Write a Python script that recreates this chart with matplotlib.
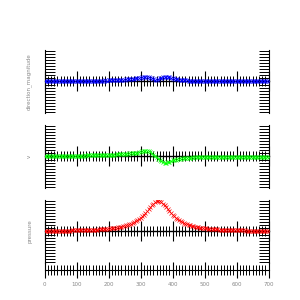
import numpy as np
import matplotlib
matplotlib.use("Agg")
import matplotlib.pyplot as plt
from matplotlib.ticker import MultipleLocator, NullFormatter

# sample positions along the domain
x = np.arange(0, 705, 5)
x_ticks = [0, 100, 200, 300, 400, 500, 600, 700]

direction_magnitude = [
    0.00, 0.00, 0.01, 0.00, 0.01, 0.00, 0.01, 0.01, 0.00, 0.01,
    0.01, 0.01, 0.00, 0.01, 0.01, 0.01, 0.01, 0.02, 0.01, 0.01,
    0.02, 0.01, 0.02, 0.02, 0.02, 0.02, 0.02, 0.02, 0.02, 0.03,
    0.02, 0.03, 0.03, 0.03, 0.03, 0.03, 0.03, 0.03, 0.04, 0.03,
    0.04, 0.04, 0.04, 0.05, 0.04, 0.05, 0.05, 0.05, 0.06, 0.06,
    0.06, 0.07, 0.07, 0.08, 0.08, 0.09, 0.09, 0.10, 0.10, 0.11,
    0.12, 0.14, 0.15, 0.16, 0.16, 0.15, 0.13, 0.10, 0.07, 0.05,
    0.05, 0.07, 0.10, 0.13, 0.15, 0.16, 0.16, 0.15, 0.14, 0.12,
    0.10, 0.09, 0.08, 0.07, 0.06, 0.05, 0.05, 0.04, 0.04, 0.04,
    0.03, 0.03, 0.03, 0.03, 0.03, 0.02, 0.02, 0.03, 0.02, 0.02,
    0.02, 0.02, 0.02, 0.02, 0.01, 0.02, 0.02, 0.01, 0.02, 0.01,
    0.01, 0.02, 0.01, 0.01, 0.01, 0.01, 0.01, 0.01, 0.00, 0.01,
    0.01, 0.01, 0.00, 0.01, 0.01, 0.00, 0.01, 0.00, 0.01, 0.00,
    0.00, 0.01, 0.00, 0.00, 0.01, 0.00, 0.00, 0.00, 0.00, 0.00,
    0.00,
]

v = [
    0.01, 0.01, 0.01, 0.01, 0.01, 0.02, 0.01, 0.02, 0.02, 0.02,
    0.02, 0.02, 0.02, 0.02, 0.02, 0.03, 0.02, 0.03, 0.03, 0.03,
    0.03, 0.03, 0.03, 0.03, 0.03, 0.04, 0.03, 0.04, 0.04, 0.04,
    0.04, 0.04, 0.04, 0.04, 0.05, 0.04, 0.05, 0.05, 0.05, 0.05,
    0.05, 0.06, 0.06, 0.06, 0.06, 0.07, 0.07, 0.07, 0.08, 0.08,
    0.08, 0.09, 0.09, 0.10, 0.10, 0.11, 0.12, 0.12, 0.13, 0.14,
    0.15, 0.17, 0.18, 0.19, 0.19, 0.17, 0.14, 0.10, 0.06, 0.02,
    -0.03, -0.08, -0.12, -0.16, -0.18, -0.20, -0.20, -0.19, -0.17, -0.15,
    -0.13, -0.11, -0.10, -0.09, -0.08, -0.07, -0.06, -0.05, -0.05, -0.04,
    -0.04, -0.04, -0.03, -0.04, -0.03, -0.03, -0.03, -0.03, -0.03, -0.02,
    -0.03, -0.02, -0.03, -0.02, -0.02, -0.02, -0.02, -0.02, -0.02, -0.02,
    -0.02, -0.02, -0.01, -0.02, -0.02, -0.01, -0.02, -0.01, -0.02, -0.01,
    -0.01, -0.02, -0.01, -0.01, -0.01, -0.02, -0.01, -0.01, -0.01, -0.01,
    -0.01, -0.01, -0.01, -0.01, -0.01, -0.01, -0.01, -0.01, -0.01, -0.01,
    -0.01,
]

pressure = [
    0.020, 0.020, 0.021, 0.021, 0.022, 0.022, 0.023, 0.024, 0.025, 0.025,
    0.026, 0.027, 0.028, 0.029, 0.030, 0.031, 0.032, 0.033, 0.034, 0.036,
    0.037, 0.038, 0.040, 0.042, 0.043, 0.045, 0.047, 0.049, 0.051, 0.054,
    0.056, 0.059, 0.062, 0.065, 0.068, 0.072, 0.075, 0.080, 0.084, 0.089,
    0.094, 0.100, 0.106, 0.113, 0.121, 0.129, 0.138, 0.148, 0.159, 0.171,
    0.185, 0.200, 0.217, 0.236, 0.257, 0.281, 0.308, 0.338, 0.372, 0.410,
    0.452, 0.500, 0.552, 0.610, 0.671, 0.735, 0.800, 0.862, 0.917, 0.962,
    0.990, 1.000, 0.990, 0.962, 0.917, 0.862, 0.800, 0.735, 0.671, 0.610,
    0.552, 0.500, 0.452, 0.410, 0.372, 0.338, 0.308, 0.281, 0.257, 0.236,
    0.217, 0.200, 0.185, 0.171, 0.159, 0.148, 0.138, 0.129, 0.121, 0.113,
    0.106, 0.100, 0.094, 0.089, 0.084, 0.080, 0.075, 0.072, 0.068, 0.065,
    0.062, 0.059, 0.056, 0.054, 0.051, 0.049, 0.047, 0.045, 0.043, 0.042,
    0.040, 0.038, 0.037, 0.036, 0.034, 0.033, 0.032, 0.031, 0.030, 0.029,
    0.028, 0.027, 0.026, 0.025, 0.025, 0.024, 0.023, 0.022, 0.022, 0.021,
    0.021,
]

series = [("direction_magnitude", direction_magnitude, "#0000ff"),
          ("v", v, "#00ff00"),
          ("pressure", pressure, "#ff0000")]

label_color = "#888888"

fig = plt.figure(figsize=(3, 3), dpi=100)
bottoms = [0.6217, 0.3717, 0.1217]

for i, (name, values, color) in enumerate(series):
    ax = fig.add_axes([0.149, bottoms[i], 0.746, 0.2133])
    ax.plot(x, values, ls="none", marker="x", ms=2.2, mew=0.5, color=color, zorder=3)
    ax.set_xlim(0, 700)
    ax.set_ylim(-1.05, 1.05)

    for side in ["left", "right"]:
        ax.spines[side].set_linewidth(0.8)
    ax.spines["top"].set_visible(False)
    ax.spines["bottom"].set_position(("data", 0))
    ax.spines["bottom"].set_linewidth(1.0)

    # y ticks on both edges, pointing in
    ax.yaxis.set_major_locator(MultipleLocator(0.1))
    ax.yaxis.set_major_formatter(NullFormatter())
    ax.tick_params(axis="y", which="major", direction="in", length=7.2, width=0.7,
                   left=True, right=True, labelleft=False)

    # zero axis with crossing ticks
    ax.set_xticks(x_ticks)
    ax.xaxis.set_minor_locator(MultipleLocator(10))
    ax.tick_params(axis="x", which="major", direction="inout", length=14, width=0.8,
                   labelbottom=False)
    ax.tick_params(axis="x", which="minor", direction="inout", length=7.5, width=0.7)

    ax.set_ylabel(name, fontsize=4, color=label_color, labelpad=9)

    if i == 2:
        sec = ax.secondary_xaxis(-0.1)
        sec.spines["bottom"].set_linewidth(0.8)
        sec.set_xticks(x_ticks, [str(t) for t in x_ticks])
        sec.xaxis.set_minor_locator(MultipleLocator(10))
        sec.tick_params(which="major", direction="inout", length=11, width=0.8,
                        labelsize=4, labelcolor=label_color, pad=3)
        sec.tick_params(which="minor", direction="inout", length=6.5, width=0.7)

fig.savefig("out.png", dpi=100)
